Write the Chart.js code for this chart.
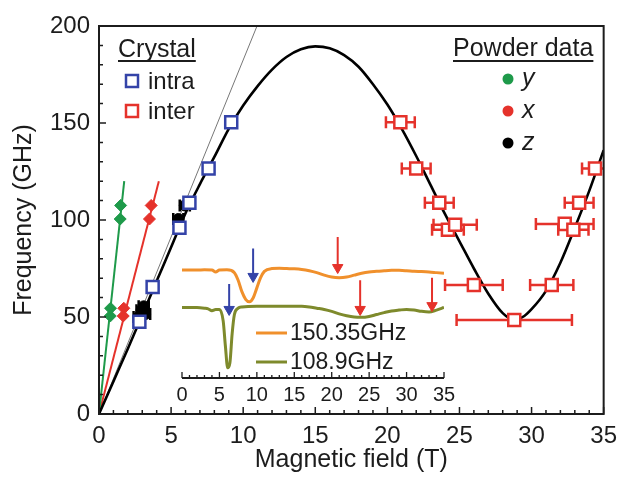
<!DOCTYPE html>
<html>
<head>
<meta charset="utf-8">
<script src="https://cdn.jsdelivr.net/npm/chart.js@4.4.1/dist/chart.umd.min.js"></script>
<style>
  html, body { margin: 0; padding: 0; background: #fff; }
  #wrap { position: relative; width: 625px; height: 477px; }
  #main { position: absolute; left: 0; top: 0; }
  #inset { position: absolute; left: 160px; top: 225px; }
</style>
</head>
<body>
<div id="wrap">
  <canvas id="main" width="625" height="477"></canvas>
  <canvas id="inset" width="310" height="185"></canvas>
</div>
<script>
// ---- data ----
// theory curve (black)
const fitField = [0, 1, 2, 3, 4, 5, 6, 7, 8, 9, 10, 11, 12, 13, 14, 15, 16, 17, 18, 19, 20, 21, 22, 23, 24, 25, 26, 27, 28, 28.8, 29.5, 30, 31, 32, 33, 34, 35];
const fitFreq = [0, 16.8, 33.6, 51, 68.5, 86, 103.5, 118.5, 132.5, 147, 159, 169, 177.5, 184, 188, 189.5, 188.5, 185, 179, 170, 159.5, 147, 133, 118, 103, 89, 75, 62, 52, 48.5, 50.5, 54, 63.5, 78, 96, 115, 136];

// thin reference line and powder linear fits (end points)
const refLine = { field: [0, 10.96], freq: [0, 200] };
const yFit = { field: [0, 1.75], freq: [0, 120] };
const xFit = { field: [0, 4.15], freq: [0, 120] };

// crystal data
const intraField = [2.8, 3.72, 5.58, 6.27, 7.6, 9.17];
const intraFreq = [47.5, 65.5, 96, 108.9, 126.5, 150.35];

const interField = [20.9, 22.0, 23.6, 24.2, 24.7, 26.0, 28.8, 31.4, 32.3, 32.9, 33.3, 34.4];
const interFreq = [150.35, 126.5, 108.9, 95, 97.5, 66.5, 48.5, 66.5, 98, 95, 108.9, 126.5];
const interErr = [1.0, 1.0, 1.0, 1.1, 1.5, 2.0, 4.0, 1.5, 2.0, 1.05, 1.0, 0.9];

// powder data
const powderYField = [0.78, 0.8, 1.47, 1.5];
const powderYFreq = [50.5, 54.5, 100.5, 107.5];
const powderXField = [1.68, 1.72, 3.5, 3.62];
const powderXFreq = [50.5, 54.5, 100.5, 107.5];
const powderZField = [2.75, 2.95, 3.1, 3.2, 5.5, 5.95];
const powderZFreq = [50, 53.5, 55.5, 51.5, 100.5, 107.5];
const powderZErr = [0.35, 0.35, 0.35, 0.35, 0.35, 0.35];

// inset spectra (arb. units)
const orField = [0, 1, 2, 3, 4, 4.5, 5, 6, 7, 7.5, 8, 8.5, 9, 9.5, 10, 10.5, 11, 12, 13, 14, 15, 16, 17, 18, 19, 20, 21, 22, 23, 24, 25, 26, 27, 28, 29, 30, 31, 32, 33, 34, 35];
const orSig = [0.85, 0.85, 0.85, 0.852, 0.85, 0.835, 0.85, 0.852, 0.83, 0.77, 0.68, 0.62, 0.60, 0.63, 0.71, 0.79, 0.84, 0.862, 0.864, 0.862, 0.86, 0.855, 0.845, 0.83, 0.81, 0.795, 0.79, 0.795, 0.81, 0.825, 0.835, 0.84, 0.845, 0.848, 0.848, 0.845, 0.84, 0.838, 0.835, 0.83, 0.825];
const olField = [0, 1, 2, 3, 3.5, 4, 4.5, 5, 5.5, 5.8, 6.1, 6.4, 6.7, 7, 7.5, 8, 10, 12, 14, 16, 17, 18, 19, 20, 21, 22, 23, 24, 25, 26, 27, 28, 29, 30, 31, 32, 33, 34, 35];
const olSig = [0.555, 0.555, 0.555, 0.55, 0.545, 0.53, 0.54, 0.54, 0.45, 0.25, 0.08, 0.12, 0.35, 0.50, 0.55, 0.56, 0.565, 0.565, 0.565, 0.565, 0.56, 0.55, 0.54, 0.525, 0.505, 0.49, 0.48, 0.478, 0.485, 0.50, 0.515, 0.528, 0.535, 0.54, 0.535, 0.525, 0.52, 0.535, 0.555];

// arrows in the inset
const arrowField = [9.5, 6.3, 20.8, 23.8, 33.4];
const arrowTop = [1.02, 0.74, 1.11, 0.77, 0.79];
const arrowHead = [0.80, 0.54, 0.87, 0.54, 0.57];
const arrowKind = ["intra", "intra", "inter", "inter", "inter"];

const xTicks = [0, 5, 10, 15, 20, 25, 30, 35];
const yTicks = [0, 50, 100, 150, 200];
const insetLabels = ["150.35GHz", "108.9GHz"];

// ---- styles ----
const INK = "#1c1c1c";
const BLUE = "#3443a8";
const RED = "#e5322b";
const GREEN = "#1e9a4a";
const ORANGE = "#f0902c";
const OLIVE = "#7e8a2c";
const FONT = "'Liberation Sans', Arial, sans-serif";

const pts = (xs, ys) => xs.map((x, i) => ({ x, y: ys[i] }));

// horizontal error bars as broken line segments
const errBars = (xs, ys, es) => {
  const out = [];
  xs.forEach((x, i) => {
    out.push({ x: x - es[i], y: ys[i] });
    out.push({ x: x + es[i], y: ys[i] });
    out.push({ x: x + es[i], y: null });
  });
  return out;
};

const errDataset = (data, color) => ({
  type: "line",
  data,
  borderColor: color,
  borderWidth: 2.5,
  pointStyle: "line",
  rotation: 90,
  pointRadius: 6,
  pointBorderColor: color,
  pointBorderWidth: 2.5,
  spanGaps: false,
  order: 5,
});

// inward ticks + frame + legend of the main plot
const mainDecor = {
  id: "mainDecor",
  afterDraw(chart) {
    const { ctx, chartArea: a, scales: { x, y } } = chart;
    ctx.save();
    ctx.strokeStyle = INK;
    ctx.lineWidth = 1.5;
    ctx.beginPath();
    for (let v = 0; v <= 35; v++) {
      const px = x.getPixelForValue(v);
      const len = v % 5 === 0 ? 7 : 4;
      ctx.moveTo(px, a.bottom);
      ctx.lineTo(px, a.bottom - len);
    }
    for (let v = 0; v <= 200; v += 10) {
      const py = y.getPixelForValue(v);
      const len = v % 50 === 0 ? 7 : 4;
      ctx.moveTo(a.left, py);
      ctx.lineTo(a.left + len, py);
    }
    ctx.stroke();
    ctx.lineWidth = 2;
    ctx.strokeRect(a.left, a.top, a.right - a.left, a.bottom - a.top);

    // legend: Crystal
    ctx.fillStyle = INK;
    ctx.textBaseline = "alphabetic";
    ctx.font = "25px " + FONT;
    ctx.fillText("Crystal", 118, 57);
    ctx.fillText("Powder data", 453, 56);
    ctx.lineWidth = 1.8;
    ctx.beginPath();
    ctx.moveTo(118, 61); ctx.lineTo(118 + ctx.measureText("Crystal").width, 61);
    ctx.moveTo(453, 61); ctx.lineTo(453 + ctx.measureText("Powder data").width, 61);
    ctx.stroke();

    ctx.font = "24px " + FONT;
    ctx.lineWidth = 2.5;
    [["intra", BLUE, 81], ["inter", RED, 111]].forEach(([t, c, yy]) => {
      ctx.strokeStyle = c;
      ctx.strokeRect(126, yy - 6, 12, 12);
      ctx.fillText(t, 148, yy + 8);
    });

    ctx.font = "italic 25px " + FONT;
    [["y", GREEN, 79], ["x", RED, 111], ["z", "#000", 143]].forEach(([t, c, yy]) => {
      ctx.fillStyle = c;
      ctx.beginPath();
      ctx.arc(508, yy, 5.5, 0, Math.PI * 2);
      ctx.fill();
      ctx.fillStyle = INK;
      ctx.fillText(t, 522, yy + 7);
    });
    ctx.restore();
  },
};

new Chart(document.getElementById("main"), {
  type: "scatter",
  data: {
    datasets: [
      {
        label: "intra",
        data: pts(intraField, intraFreq),
        pointStyle: "rect",
        pointRadius: 8.5,
        pointBorderWidth: 2.5,
        pointBorderColor: BLUE,
        pointBackgroundColor: "#fff",
        order: 1,
      },
      {
        label: "inter",
        data: pts(interField, interFreq),
        pointStyle: "rect",
        pointRadius: 8.5,
        pointBorderWidth: 2.5,
        pointBorderColor: RED,
        pointBackgroundColor: "#fff",
        order: 1,
      },
      errDataset(errBars(interField, interFreq, interErr), RED),
      {
        label: "y",
        data: pts(powderYField, powderYFreq),
        pointStyle: "rectRot",
        pointRadius: 6,
        pointBackgroundColor: GREEN,
        pointBorderColor: GREEN,
        order: 2,
      },
      {
        label: "x",
        data: pts(powderXField, powderXFreq),
        pointStyle: "rectRot",
        pointRadius: 6,
        pointBackgroundColor: RED,
        pointBorderColor: RED,
        order: 2,
      },
      {
        label: "z",
        data: pts(powderZField, powderZFreq),
        pointStyle: "circle",
        pointRadius: 5.5,
        pointBackgroundColor: "#000",
        pointBorderColor: "#000",
        order: 2,
      },
      errDataset(errBars(powderZField, powderZFreq, powderZErr), "#000"),
      {
        type: "line",
        data: pts(fitField, fitFreq),
        borderColor: "#000",
        borderWidth: 2.6,
        pointRadius: 0,
        cubicInterpolationMode: "monotone",
        order: 10,
      },
      {
        type: "line",
        data: pts(refLine.field, refLine.freq),
        borderColor: "#777",
        borderWidth: 1,
        pointRadius: 0,
        order: 11,
      },
      {
        type: "line",
        data: pts(yFit.field, yFit.freq),
        borderColor: GREEN,
        borderWidth: 2,
        pointRadius: 0,
        order: 11,
      },
      {
        type: "line",
        data: pts(xFit.field, xFit.freq),
        borderColor: RED,
        borderWidth: 2,
        pointRadius: 0,
        order: 11,
      },
    ],
  },
  plugins: [mainDecor],
  options: {
    responsive: false,
    animation: false,
    events: [],
    layout: { padding: { top: 26, right: 17, left: 0, bottom: 0 } },
    plugins: { legend: { display: false }, tooltip: { enabled: false } },
    scales: {
      x: {
        type: "linear",
        min: 0,
        max: 35,
        afterFit: (s) => { s.height = 63; },
        afterBuildTicks: (s) => { s.ticks = xTicks.map((v) => ({ value: v })); },
        grid: { display: false, drawTicks: false },
        border: { display: false },
        ticks: { color: INK, font: { family: FONT, size: 24 }, padding: 8 },
        title: {
          display: true,
          text: "Magnetic field (T)",
          color: INK,
          font: { family: FONT, size: 25 },
          padding: { top: 0, bottom: 2 },
        },
      },
      y: {
        type: "linear",
        min: 0,
        max: 200,
        afterFit: (s) => { s.width = 99; },
        afterBuildTicks: (s) => { s.ticks = yTicks.map((v) => ({ value: v })); },
        grid: { display: false, drawTicks: false },
        border: { display: false },
        ticks: { color: INK, font: { family: FONT, size: 24 }, padding: 9 },
        title: {
          display: true,
          text: "Frequency (GHz)",
          color: INK,
          font: { family: FONT, size: 25 },
          padding: { top: 9, bottom: 0 },
        },
      },
    },
  },
});

// ---- inset ----
const insetDecor = {
  id: "insetDecor",
  afterDraw(chart) {
    const { ctx, chartArea: a, scales: { x } } = chart;
    ctx.save();
    ctx.strokeStyle = INK;
    ctx.lineWidth = 1.3;
    ctx.beginPath();
    for (let v = 0; v <= 35; v++) {
      const px = x.getPixelForValue(v);
      const len = v % 5 === 0 ? 6 : 3;
      ctx.moveTo(px, a.bottom);
      ctx.lineTo(px, a.bottom - len);
    }
    ctx.stroke();
    ctx.lineWidth = 2;
    ctx.beginPath();
    ctx.moveTo(a.left, a.bottom);
    ctx.lineTo(a.right, a.bottom);
    ctx.stroke();

    ctx.font = "23px " + FONT;
    ctx.textBaseline = "middle";
    ctx.fillStyle = INK;
    [ORANGE, OLIVE].forEach((c, i) => {
      const yy = 108 + i * 29;
      ctx.strokeStyle = c;
      ctx.lineWidth = 3;
      ctx.beginPath();
      ctx.moveTo(96, yy);
      ctx.lineTo(127, yy);
      ctx.stroke();
      ctx.fillText(insetLabels[i], 130, yy + 1);
    });
    ctx.restore();
  },
};

const arrowSets = arrowField.map((b, i) => {
  const c = arrowKind[i] === "intra" ? BLUE : RED;
  return {
    type: "line",
    data: [{ x: b, y: arrowTop[i] }, { x: b, y: arrowHead[i] }],
    borderColor: c,
    borderWidth: 2,
    pointStyle: "triangle",
    rotation: 180,
    pointRadius: [0, 6],
    pointBackgroundColor: c,
    pointBorderColor: c,
    pointBorderWidth: 1,
    order: 0,
  };
});

new Chart(document.getElementById("inset"), {
  type: "line",
  data: {
    datasets: [
      {
        data: pts(orField, orSig),
        borderColor: ORANGE,
        borderWidth: 3,
        pointRadius: 0,
        cubicInterpolationMode: "monotone",
        order: 2,
      },
      {
        data: pts(olField, olSig),
        borderColor: OLIVE,
        borderWidth: 3,
        pointRadius: 0,
        cubicInterpolationMode: "monotone",
        order: 2,
      },
      ...arrowSets,
    ],
  },
  plugins: [insetDecor],
  options: {
    responsive: false,
    animation: false,
    events: [],
    layout: { padding: { top: 0, left: 22, right: 26, bottom: 0 } },
    plugins: { legend: { display: false }, tooltip: { enabled: false } },
    scales: {
      x: {
        type: "linear",
        min: 0,
        max: 35,
        afterFit: (s) => { s.height = 32; },
        afterBuildTicks: (s) => { s.ticks = xTicks.map((v) => ({ value: v })); },
        grid: { display: false, drawTicks: false },
        border: { display: false },
        ticks: { color: INK, font: { family: FONT, size: 20 }, padding: 5 },
      },
      y: { display: false, min: 0, max: 1.15 },
    },
  },
});
</script>
</body>
</html>
